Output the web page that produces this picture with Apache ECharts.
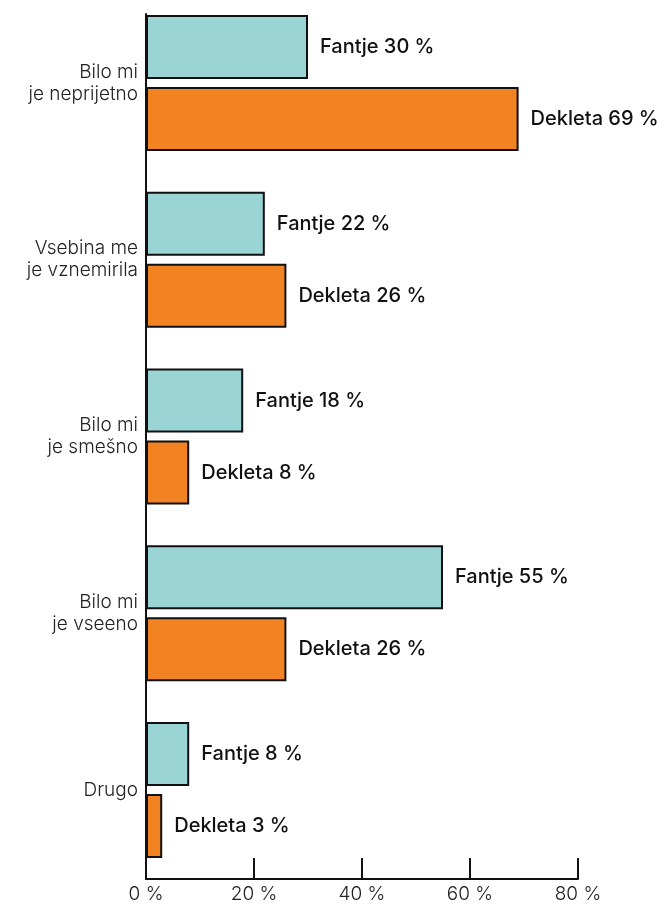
<!DOCTYPE html>
<html>
<head>
<meta charset="utf-8">
<style>
  html, body { margin: 0; padding: 0; background: #fff; }
  #chart { width: 667px; height: 904px; }
</style>
<script src="https://cdn.jsdelivr.net/npm/echarts@6/dist/echarts.min.js"></script>
</head>
<body>
<div id="chart"></div>
<script>
// kategorije (od zgoraj navzdol)
const categories = [
  'Bilo mi\nje neprijetno',
  'Vsebina me\nje vznemirila',
  'Bilo mi\nje smešno',
  'Bilo mi\nje vseeno',
  'Drugo'
];
const fantje = [30, 22, 18, 55, 8];
const dekleta = [69, 26, 8, 26, 3];
const xTicks = [0, 20, 40, 60, 80];

const font = 'Inter';

const chart = echarts.init(document.getElementById('chart'), null, { renderer: 'canvas' });

function barSeries(name, data, color) {
  return {
    name: name,
    type: 'bar',
    xAxisIndex: 1,
    yAxisIndex: 1,
    data: data,
    barWidth: 64,
    barGap: '12.5%',
    clip: false,
    itemStyle: { color: color, borderColor: '#111', borderWidth: 2 },
    label: {
      show: true,
      position: 'right',
      distance: 12,
      formatter: p => name + ' ' + p.value + ' %',
      fontFamily: font,
      fontSize: 20,
      fontWeight: 500,
      color: '#111'
    },
    silent: true
  };
}

const option = {
  animation: false,
  grid: [
    // okvir za osi (pasovi 14..858, os x spodaj pri 879)
    { left: 146, width: 432, top: 14, height: 865 },
    // okvir za stolpce (sredine skupin)
    { left: 146, width: 432, top: 83, height: 707 }
  ],
  xAxis: [
    {
      gridIndex: 0,
      type: 'value',
      min: xTicks[0],
      max: xTicks[xTicks.length - 1],
      interval: 20,
      axisLine: { show: true, onZero: false, lineStyle: { color: '#111', width: 2 } },
      axisTick: { show: true, inside: true, length: 21, lineStyle: { color: '#111', width: 2 } },
      splitLine: { show: false },
      axisLabel: {
        margin: 6,
        formatter: v => v + ' %',
        fontFamily: font,
        fontSize: 19,
        fontWeight: 300,
        color: '#222'
      }
    },
    {
      gridIndex: 1,
      type: 'value',
      min: xTicks[0],
      max: xTicks[xTicks.length - 1],
      show: false
    }
  ],
  yAxis: [
    {
      gridIndex: 0,
      type: 'value',
      min: 0,
      max: 1,
      axisLine: { show: true, onZero: false, lineStyle: { color: '#111', width: 2 } },
      axisTick: { show: false },
      axisLabel: { show: false },
      splitLine: { show: false }
    },
    {
      gridIndex: 1,
      type: 'category',
      data: categories,
      inverse: true,
      boundaryGap: false,
      axisLine: { show: false },
      axisTick: { show: false },
      axisLabel: {
        margin: 8,
        align: 'right',
        lineHeight: 22,
        fontFamily: font,
        fontSize: 19,
        fontWeight: 300,
        color: '#222'
      }
    }
  ],
  series: [
    barSeries('Fantje', fantje, '#9bd4d5'),
    barSeries('Dekleta', dekleta, '#f28322')
  ]
};

chart.setOption(option);
window.addEventListener('resize', chart.resize);
</script>
</body>
</html>
